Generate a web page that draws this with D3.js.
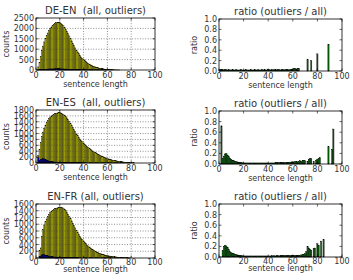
<!DOCTYPE html>
<html><head><meta charset="utf-8">
<script src="https://cdn.jsdelivr.net/npm/d3@7"></script>
<style>
html,body{margin:0;padding:0;background:#fff;}
svg{display:block;font-family:"DejaVu Sans",sans-serif;}
svg text{white-space:pre;}
</style></head>
<body>
<svg id="c" width="353" height="280"></svg>
<script>
// ---- data (index 0 = sentence length 1) ----
const titlesLeft = ["DE-EN  (all, outliers)", "EN-ES  (all, outliers)", "EN-FR (all, outliers)"];
const titleRight = "ratio (outliers / all)";
const xTicks = [0, 20, 40, 60, 80, 100];
const yTicksDeEn = [0, 500, 1000, 1500, 2000, 2500];
const yTicksEnEs = [0, 200, 400, 600, 800, 1000, 1200, 1400, 1600, 1800];
const yTicksEnFr = [0, 200, 400, 600, 800, 1000, 1200, 1400, 1600];
const yTicksRatio = [0, 0.2, 0.4, 0.6, 0.8, 1.0];

const deEnAll = [0,150,350,650,950,1150,1350,1500,1650,1780,1890,1990,2070,2140,2200,2240,2270,2290,2300,2280,
  2250,2200,2130,2050,1960,1860,1750,1640,1520,1400,1280,1170,1060,960,870,780,700,630,560,500,
  450,400,355,315,280,245,215,190,165,145,125,110,95,82,70,60,50,42,35,29,24,20,16,13,10,8,6,4,3,2];
const deEnOut = [0,5,10,18,25,30,34,38,41,45,47,50,52,53,55,56,57,57,57,56,
  54,52,50,48,46,43,40,37,34,32,29,26,23,21,20,17,15,13,12,11,10,8,7,6,6,5,4,4,3,3,3,2,2,2,2,1,1,1,1,1];
const enEsAll = [0,250,450,700,900,1050,1180,1290,1380,1450,1510,1560,1600,1630,1655,1675,1690,1700,1705,1705,
  1700,1680,1650,1610,1580,1530,1470,1410,1340,1270,1200,1130,1060,990,930,870,815,760,720,680,
  640,600,560,525,490,460,430,400,375,350,325,300,280,260,240,220,200,185,170,155,
  140,128,116,105,95,86,78,70,62,55,49,43,38,33,29,25,21,18,15,12,9,6];
const enEsOut = [0,180,100,110,130,150,140,120,100,80,65,55,45,40,35,33,31,30,29,28,
  27,26,26,25,25,24,24,23,22,22,21,21,20,20,19,18,17,16,15,14];
const enFrAll = [0,0,230,300,650,850,980,1080,1160,1230,1290,1340,1380,1410,1440,1460,1475,1485,1495,1500,
  1505,1500,1480,1450,1410,1360,1300,1240,1170,1100,1030,960,890,825,760,700,645,595,550,505,
  465,425,390,355,325,295,268,243,220,200,181,164,148,134,121,109,98,88,79,71,
  64,57,51,46,41,36,32,28,25,22,19,16,14,12,10,8,6,5,4,3];
const enFrOut = [0,0,40,60,90,100,95,85,75,65,55,45,40,35,30,29,28,27,27,26,
  26,25,25,24,24,23,22,21,20,19,18,17,16,15,14];

const deEnRatio = [0.03,0.03,0.03,0.02,0.03,0.03,0.02,0.03,0.02,0.02,0.03,0.02,0.02,0.03,0.02,0.02,0.02,0.03,0.02,0.02,
  0.02,0.03,0.02,0.02,0.02,0.03,0.02,0.02,0.03,0.02,0.02,0.03,0.02,0.02,0.03,0.02,0.03,0.02,0.02,0.03,
  0.03,0.02,0.03,0.02,0.03,0.03,0.02,0.03,0.03,0.02,0.03,0.03,0.02,0.03,0.03,0.03,0.02,0.03,0.03,0.04,
  0.05,0.05,0.04,0.05,0.05,0,0,0,0,0,0,0.22,0,0,0.2,0,0,0,0,0.33,0,0,0,0,0,0,0,0,0.51];
const enEsRatio = [0,0.72,0.1,0.15,0.19,0.2,0.17,0.14,0.11,0.09,0.07,0.06,0.05,0.045,0.04,0.035,0.03,0.03,0.025,0.02,
  0.02,0.02,0.02,0.02,0.02,0.02,0.02,0.02,0.02,0.02,0.02,0.02,0.02,0.02,0.02,0.02,0.02,0.02,0.02,0.02,
  0.02,0.02,0.02,0.02,0.02,0.025,0.025,0.025,0.025,0.025,0.025,0.025,0.025,0.025,0.025,0.03,0.03,0.035,0.04,0.04,
  0.04,0.045,0.05,0.04,0.05,0.06,0.05,0.07,0.06,0.06,0,0.05,0.09,0.1,0.1,0,0.05,0,0.07,0.09,
  0.1,0.12,0,0,0,0,0,0,0.33,0,0,0.28,0.66];
const enFrRatio = [0,0,0.12,0.2,0.22,0.21,0.18,0.14,0.1,0.08,0.07,0.06,0.05,0.045,0.04,0.035,0.03,0.025,0.025,0.02,
  0.02,0.02,0.02,0.02,0.02,0.02,0.02,0.02,0.02,0.02,0.02,0.02,0.02,0.02,0.02,0.02,0.02,0.02,0.02,0.02,
  0.02,0.02,0.025,0.02,0.025,0.02,0.025,0.025,0.02,0.025,0.025,0.03,0.025,0.03,0.025,0.03,0.03,0.025,0.03,0.03,
  0.03,0.03,0.03,0.03,0.03,0.03,0.04,0.05,0.05,0.06,0.1,0.2,0.17,0.15,0.13,0,0.16,0.17,0,0.25,
  0.22,0,0.3,0,0.33];

// ---- layout ----
const svg = d3.select("#c");
const rows = [
  {T:18, B:70, rT:19, rB:71, tickOff:8, labOff:17},
  {T:110, B:163, rT:111, rB:164, tickOff:8, labOff:17},
  {T:204, B:258, rT:204, rB:257, tickOff:7, labOff:14}
];
const leftX = [36, 155], rightX = [219, 342];
const leftData = [
  {all: deEnAll, out: deEnOut, max: 2500, ticks: yTicksDeEn},
  {all: enEsAll, out: enEsOut, max: 1800, ticks: yTicksEnEs},
  {all: enFrAll, out: enFrOut, max: 1600, ticks: yTicksEnFr}
];
const ratioData = [deEnRatio, enEsRatio, enFrRatio];
const txt = "#333";

function frame(g, x, y, xt, yt, fmt, grid, T, B, L, R, tickOff, labOff, title, ylab, ylabX) {
  if (grid) {
    g.selectAll(".gx").data(xt.slice(1, -1)).join("line")
      .attr("x1", d => x(d)).attr("x2", d => x(d)).attr("y1", T).attr("y2", B)
      .attr("stroke", "#444").attr("stroke-width", 0.6).attr("stroke-dasharray", "1,1.6");
    g.selectAll(".gy").data(yt.slice(1, -1)).join("line")
      .attr("y1", d => y(d)).attr("y2", d => y(d)).attr("x1", L).attr("x2", R)
      .attr("stroke", "#444").attr("stroke-width", 0.6).attr("stroke-dasharray", "1,1.6");
  }
  const tk = g.append("g").attr("stroke", "#000").attr("stroke-width", 0.6);
  xt.forEach(d => {
    tk.append("line").attr("x1", x(d)).attr("x2", x(d)).attr("y1", B).attr("y2", B - 2.5);
    tk.append("line").attr("x1", x(d)).attr("x2", x(d)).attr("y1", T).attr("y2", T + 2.5);
  });
  yt.forEach(d => {
    tk.append("line").attr("y1", y(d)).attr("y2", y(d)).attr("x1", L).attr("x2", L + 2.5);
    tk.append("line").attr("y1", y(d)).attr("y2", y(d)).attr("x1", R).attr("x2", R - 2.5);
  });
  g.append("rect").attr("x", L).attr("y", T).attr("width", R - L).attr("height", B - T)
    .attr("fill", "none").attr("stroke", "#000").attr("stroke-width", 0.8);
  g.selectAll(".xl").data(xt).join("text").attr("x", d => x(d)).attr("y", B + tickOff)
    .attr("text-anchor", "middle").attr("font-size", 8).attr("fill", txt).text(d => d);
  g.selectAll(".yl").data(yt).join("text").attr("x", L - 2).attr("y", d => y(d) + 3)
    .attr("text-anchor", "end").attr("font-size", 8).attr("fill", txt).text(fmt);
  g.append("text").attr("x", (L + R) / 2).attr("y", B + labOff).attr("text-anchor", "middle")
    .attr("font-size", 8).attr("fill", txt).text("sentence length");
  g.append("text").attr("x", (L + R) / 2).attr("y", T - 4).attr("text-anchor", "middle")
    .attr("font-size", 10).attr("fill", txt).text(title);
  g.append("text").attr("transform", `translate(${ylabX},${(T + B) / 2}) rotate(-90)`)
    .attr("text-anchor", "middle").attr("font-size", 8).attr("fill", txt).text(ylab);
}

rows.forEach((r, i) => {
  const ld = leftData[i];
  const x = d3.scaleLinear().domain([0, 100]).range(leftX);
  const y = d3.scaleLinear().domain([0, ld.max]).range([r.B, r.T]);
  const g = svg.append("g");
  g.append("g").selectAll("rect").data(ld.all).join("rect")
    .attr("x", (d, k) => x(k + 0.5)).attr("width", x(1) - x(0))
    .attr("y", d => y(d)).attr("height", d => r.B - y(d))
    .attr("fill", "#bfbf00").attr("stroke", "#000").attr("stroke-width", 0.35);
  g.append("g").selectAll("rect").data(ld.out).join("rect")
    .attr("x", (d, k) => x(k + 0.5)).attr("width", x(1) - x(0))
    .attr("y", d => y(d)).attr("height", d => r.B - y(d))
    .attr("fill", "#0000bf").attr("stroke", "#000").attr("stroke-width", 0.35);
  frame(g, x, y, xTicks, ld.ticks, d => d, true, r.T, r.B, leftX[0], leftX[1], r.tickOff, r.labOff, titlesLeft[i], "counts", 9);

  const rd = ratioData[i];
  const xr = d3.scaleLinear().domain([0, 100]).range(rightX);
  const yr = d3.scaleLinear().domain([0, 1]).range([r.rB, r.rT]);
  const g2 = svg.append("g");
  g2.append("g").selectAll("rect").data(rd).join("rect")
    .attr("x", (d, k) => xr(k + 0.5)).attr("width", xr(1) - xr(0))
    .attr("y", d => yr(d)).attr("height", d => r.rB - yr(d))
    .attr("fill", "#006400").attr("stroke", "#000").attr("stroke-width", 0.35);
  frame(g2, xr, yr, xTicks, yTicksRatio, d3.format(".1f"), false, r.rT, r.rB, rightX[0], rightX[1], r.tickOff, r.labOff, titleRight, "ratio", 197);
});
</script>
</body></html>
